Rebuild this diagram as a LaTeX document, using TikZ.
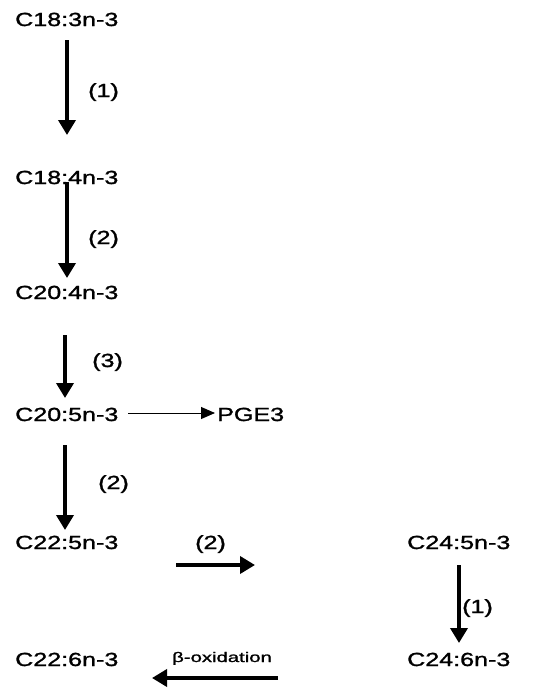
\documentclass[tikz,border=0pt]{standalone}
\usepackage{fontspec}
\setmainfont{Liberation Sans}
\newfontfamily\medfont{Liberation Sans}[FakeBold=1.2]
\usetikzlibrary{arrows.meta}
\newcommand{\wtxt}[1]{\scalebox{1.32}[1]{#1}}
\begin{document}
\begin{tikzpicture}[x=1pt,y=-1pt,
  lbl/.style={inner sep=0pt,anchor=base west,font=\fontsize{19}{22}\medfont},
  small/.style={inner sep=0pt,anchor=base west,font=\fontsize{14}{16}\medfont},
  bigarrow/.style={line width=3.6pt,-{Triangle[length=15pt,width=17pt]}},
  thinarrow/.style={line width=1pt,-{Triangle[length=14pt,width=12pt]}}]
\useasboundingbox (0,0) rectangle (546,689);
% compounds
\node[lbl] (a) at (15,26) {\wtxt{C18:3n-3}};
\node[lbl] (b) at (15,184) {\wtxt{C18:4n-3}};
\node[lbl] (c) at (15,299) {\wtxt{C20:4n-3}};
\node[lbl] (d) at (15,421) {\wtxt{C20:5n-3}};
\node[lbl] (pge) at (217,421) {\wtxt{PGE3}};
\node[lbl] (e) at (15,549) {\wtxt{C22:5n-3}};
\node[lbl] (f) at (407,549) {\wtxt{C24:5n-3}};
\node[lbl] (g) at (407,666) {\wtxt{C24:6n-3}};
\node[lbl] (h) at (15,666) {\wtxt{C22:6n-3}};
% step labels
\node[lbl] (l1) at (88,97) {\wtxt{(1)}};
\node[lbl] (l2) at (88,244) {\wtxt{(2)}};
\node[lbl] (l3) at (92,367) {\wtxt{(3)}};
\node[lbl] (l4) at (98,489) {\wtxt{(2)}};
\node[lbl] (l5) at (195,549) {\wtxt{(2)}};
\node[lbl] (l6) at (462,613) {\wtxt{(1)}};
\node[small] (beta) at (172,662) {\scalebox{1.45}[1]{β-oxidation}};
% connector ends
\coordinate (a1s) at (67,40);  \coordinate (a1e) at (67,135);
\coordinate (a2s) at (67,182); \coordinate (a2e) at (67,278);
\coordinate (a3s) at (65,335); \coordinate (a3e) at (65,398);
\coordinate (a4s) at (65,445); \coordinate (a4e) at (65,530);
\coordinate (p1s) at (128,413); \coordinate (p1e) at (215,413);
\coordinate (h1s) at (176,565); \coordinate (h1e) at (255,565);
\coordinate (r1s) at (459,565); \coordinate (r1e) at (459,643);
\coordinate (b1s) at (278,678); \coordinate (b1e) at (152,678);
% arrows
\draw[bigarrow] (a1s) -- (a1e);
\draw[bigarrow] (a2s) -- (a2e);
\draw[bigarrow] (a3s) -- (a3e);
\draw[bigarrow] (a4s) -- (a4e);
\draw[thinarrow] (p1s) -- (p1e);
\draw[bigarrow] (h1s) -- (h1e);
\draw[bigarrow] (r1s) -- (r1e);
\draw[bigarrow] (b1s) -- (b1e);
\end{tikzpicture}
\end{document}
